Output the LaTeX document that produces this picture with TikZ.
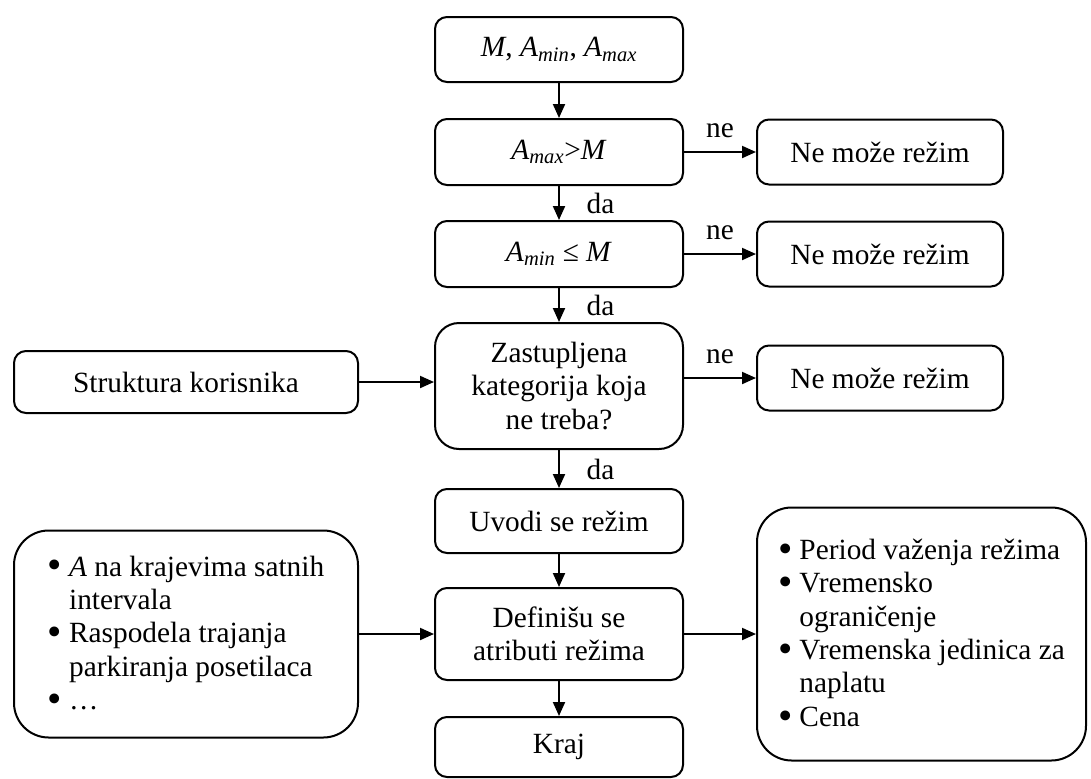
\documentclass[tikz,border=0pt]{standalone}
\usepackage{fontspec}
\usepackage{graphicx}
\setmainfont{Liberation Serif}
\usetikzlibrary{arrows.meta,positioning}
\newcommand{\BoxW}{186pt}
\newcommand{\SideW}{184.5pt}
\newcommand{\WideW}{258pt}
\newcommand{\Bul}{\makebox[16pt][l]{\raisebox{-2.2pt}{\scalebox{1.4}{\textbullet}}}}
\newcommand{\Hang}{\hspace*{16pt}}
\newcommand{\Var}[2]{\textit{#1}\textsubscript{\textit{#2}}}

\begin{document}
\begin{tikzpicture}[x=0.75pt, y=-0.75pt, font=\fontsize{22}{25}\selectfont,
    stepbox/.style={draw, line width=1.5pt, rounded corners=9pt, minimum width=\BoxW, align=center, inner sep=4pt},
    sidebox/.style={stepbox, minimum width=\SideW, minimum height=48.75pt},
    bigbox/.style={draw, line width=1.5pt, rounded corners=26pt, align=left, inner sep=4pt},
    flow/.style={-{Triangle[length=10.5pt, width=9pt]}, line width=1.5pt},
    lab/.style={inner sep=2pt},
  ]
\useasboundingbox (0,0) rectangle (1091,778);

% --- Main column -------------------------------------------------------------
\node[stepbox, minimum height=48.75pt] (input) at (559,49.5) {\textit{M}, \Var{A}{min}, \Var{A}{max}};
\node[stepbox, minimum height=49.5pt] (maxtest) at (559,152) {\Var{A}{max}>\textit{M}};
\node[stepbox, minimum height=49.5pt] (mintest) at (559,254) {\Var{A}{min} ≤ \textit{M}};
\node[stepbox, minimum height=94.5pt, rounded corners=18pt] (cattest) at (559,386) {Zastupljena\\kategorija koja\\ne treba?};
\node[stepbox, minimum height=48pt] (intro) at (559,521) {Uvodi se režim};
\node[stepbox, minimum height=69pt] (attrs) at (559,634) {Definišu se\\atributi režima};
\node[stepbox, minimum height=45pt] (fin) at (559,747) {Kraj};

% --- Rejections --------------------------------------------------------------
\node[sidebox] (no1) at (880,152) {Ne može režim};
\node[sidebox] (no2) at (880,254) {Ne može režim};
\node[sidebox] (no3) at (880,378) {Ne može režim};

% --- Inputs and outputs ------------------------------------------------------
\node[stepbox, minimum width=\WideW, minimum height=46.5pt] (users) at (186,382) {Struktura korisnika};
\node[bigbox, minimum width=\WideW, minimum height=155.25pt] (data) at (186,634)
  {\Bul\textit{A} na krajevima satnih\\\Hang intervala\\\Bul Raspodela trajanja\\\Hang parkiranja posetilaca\\\Bul …};
\node[bigbox, minimum width=246.75pt, minimum height=189.75pt] (attrlist) at (921.5,634)
  {\Bul Period važenja režima\\\Bul Vremensko\\\Hang ograničenje\\\Bul Vremenska jedinica za\\\Hang naplatu\\\Bul Cena};

% --- Flow --------------------------------------------------------------------
\draw[flow] (input) -- (maxtest);
\draw[flow] (maxtest) -- node[lab, right=18pt] {da} (mintest);
\draw[flow] (mintest) -- node[lab, right=18pt] {da} (cattest);
\draw[flow] (cattest) -- node[lab, right=18pt] {da} (intro);
\draw[flow] (intro) -- (attrs);
\draw[flow] (attrs) -- (fin);

\draw[flow] (maxtest) -- node[lab, above=8pt] {ne} (no1);
\draw[flow] (mintest) -- node[lab, above=8pt] {ne} (no2);
\draw[flow] (cattest.east |- no3) -- node[lab, above=8pt] {ne} (no3);

\draw[flow] (users) -- (users -| cattest.west);
\draw[flow] (data) -- (attrs);
\draw[flow] (attrs) -- (attrlist);
\end{tikzpicture}
\end{document}
